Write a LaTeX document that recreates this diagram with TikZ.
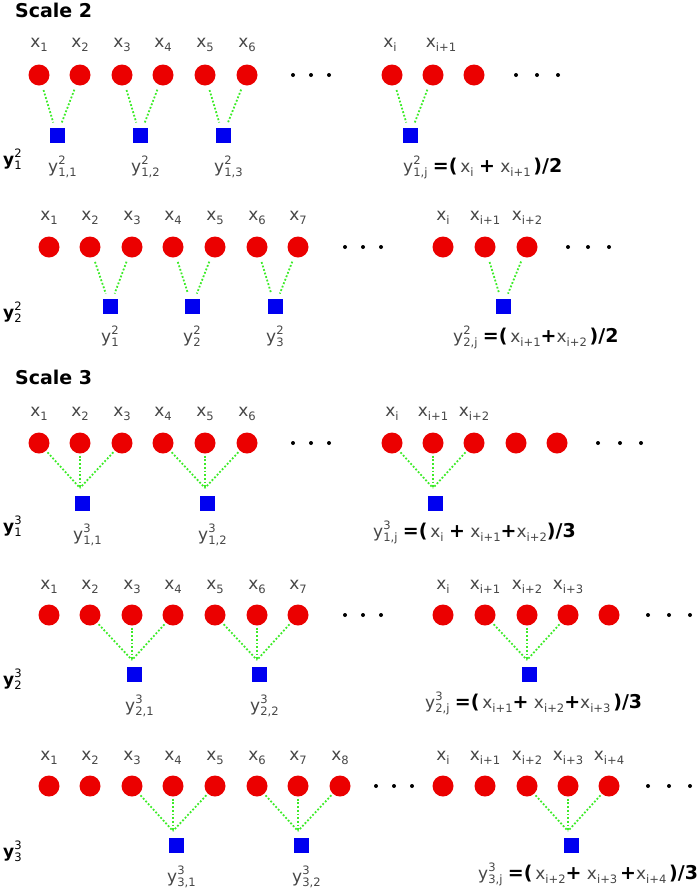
\documentclass[tikz,border=0pt]{standalone}
\usepackage{fontspec}
\setmainfont{DejaVu Sans}
\usepackage{xcolor}
\usepackage{tikz}
\definecolor{obsred}{RGB}{235,0,0}
\definecolor{avgblue}{RGB}{0,0,240}
\definecolor{linkgreen}{RGB}{60,235,40}
\definecolor{lblgray}{RGB}{70,70,70}
\newcommand{\lowr}[1]{\raisebox{-.24em}{\scalebox{.68}{#1}}}
\newcommand{\highr}[1]{\raisebox{.44em}{\scalebox{.68}{#1}}}
\newcommand{\xs}[1]{x\lowr{#1}}
\newcommand{\ys}[2]{y\rlap{\highr{#1}}\lowr{#2}}
\newcommand{\yb}[2]{\textbf{y}\rlap{\highr{#1}}\lowr{#2}}
\newcommand{\op}[1]{{\fontsize{19}{19}\selectfont\bfseries\color{black}#1}}
\tikzset{
  obs/.style     = {circle, fill=obsred, minimum size=21pt, inner sep=0pt},
  avg/.style     = {rectangle, fill=avgblue, minimum size=15pt, inner sep=0pt},
  gap/.style     = {circle, fill=black, minimum size=4pt, inner sep=0pt},
  pair/.style    = {draw=linkgreen, line width=1.8pt, dash pattern=on 1.8pt off 1.9pt,
                    shorten <=5pt, shorten >=5pt},
  triple/.style  = {draw=linkgreen, line width=1.8pt, dash pattern=on 1.8pt off 1.9pt,
                    shorten <=2pt},
  xlab/.style    = {text=lblgray, font=\fontsize{17}{17}\selectfont, anchor=base, inner sep=0pt},
  ylab/.style    = {text=lblgray, font=\fontsize{17}{17}\selectfont, anchor=base west, inner sep=0pt},
  eqn/.style     = {text=lblgray, font=\fontsize{17}{17}\selectfont, anchor=base west, inner sep=0pt},
  rowlab/.style  = {text=black, font=\fontsize{17}{17}\selectfont, anchor=base west, inner sep=0pt},
  heading/.style = {font=\fontsize{19}{19}\selectfont\bfseries, anchor=west, inner sep=0pt}
}
\begin{document}
\begin{tikzpicture}[x=1pt, y=-1pt]
\useasboundingbox (0,0) rectangle (697,892);
\node[heading] (sc2) at (15,10) {Scale 2};
\node[heading] (sc3) at (15,377) {Scale 3};
% scale 2, first offset
\foreach \k/\cx in {1/39,2/80,3/122,4/163,5/205,6/247}{
  \node[obs] (a\k) at (\cx,75) {};
  \node[xlab] (la\k) at (\cx,47) {\xs{\k}};
}
\foreach \k/\cx/\t/\lx in {1/392/i/390,2/433/i+1/441}{
  \node[obs] (ai\k) at (\cx,75) {};
  \node[xlab] (lai\k) at (\lx,47) {\xs{\t}};
}
\node[obs] (ai3) at (474,75) {};
\foreach \k/\cx in {1/293,2/311,3/329,4/516,5/537,6/558}
  \node[gap] (da\k) at (\cx,75) {};
\foreach \k/\sx/\u/\v in {1/57/1/2,2/140/3/4,3/223/5/6}{
  \node[avg] (sa\k) at (\sx,135) {};
  \draw[pair] (a\u) -- (sa\k);
  \draw[pair] (a\v) -- (sa\k);
  \node[ylab] (ya\k) at (\sx-9,172) {\ys{2}{1,\k}};
}
\node[avg] (saj) at (410,135) {};
\draw[pair] (ai1) -- (saj);
\draw[pair] (ai2) -- (saj);
\node[eqn] (fa) at (403,172) {\ys{2}{1,j} \op{=(}\,\xs{i} \op{+} \xs{i+1}\,\op{)/2}};
\node[rowlab] (ra) at (3,165) {\yb{2}{1}};
% scale 2, second offset
\foreach \k/\cx in {1/49,2/90,3/132,4/173,5/215,6/257,7/298}{
  \node[obs] (b\k) at (\cx,247) {};
  \node[xlab] (lb\k) at (\cx,220) {\xs{\k}};
}
\foreach \k/\cx/\t in {1/443/i,2/485/i+1,3/527/i+2}{
  \node[obs] (bi\k) at (\cx,247) {};
  \node[xlab] (lbi\k) at (\cx,220) {\xs{\t}};
}
\foreach \k/\cx in {1/345,2/363,3/381,4/568,5/588,6/609}
  \node[gap] (db\k) at (\cx,247) {};
\foreach \k/\sx/\u/\v in {1/110/2/3,2/192/4/5,3/275/6/7}{
  \node[avg] (sb\k) at (\sx,306) {};
  \draw[pair] (b\u) -- (sb\k);
  \draw[pair] (b\v) -- (sb\k);
  \node[ylab] (yb\k) at (\sx-9,342) {\ys{2}{\k}};
}
\node[avg] (sbj) at (503,306) {};
\draw[pair] (bi2) -- (sbj);
\draw[pair] (bi3) -- (sbj);
\node[eqn] (fb) at (453,342) {\ys{2}{2,j} \op{=(}\,\xs{i+1}\op{+}\xs{i+2}\,\op{)/2}};
\node[rowlab] (rb) at (3,318) {\yb{2}{2}};
% scale 3, first offset
\foreach \k/\cx in {1/39,2/80,3/122,4/163,5/205,6/247}{
  \node[obs] (c\k) at (\cx,443) {};
  \node[xlab] (lc\k) at (\cx,416) {\xs{\k}};
}
\foreach \k/\cx/\t in {1/392/i,2/433/i+1,3/474/i+2}{
  \node[obs] (ci\k) at (\cx,443) {};
  \node[xlab] (lci\k) at (\cx,416) {\xs{\t}};
}
\node[obs] (ci4) at (516,443) {};
\node[obs] (ci5) at (557,443) {};
\foreach \k/\cx in {1/293,2/311,3/329,4/598,5/620,6/641}
  \node[gap] (dc\k) at (\cx,443) {};
\foreach \k/\jx/\u/\v/\w in {1/80/1/2/3,2/205/4/5/6}{
  \coordinate (jc\k) at (\jx,488);
  \node[avg] (sc\k) at (\jx+2,503) {};
  \draw[triple] (c\u) -- (jc\k);
  \draw[triple] (c\v) -- (jc\k);
  \draw[triple] (c\w) -- (jc\k);
  \node[ylab] (yc\k) at (\jx-7,540) {\ys{3}{1,\k}};
}
\coordinate (jcj) at (433,488);
\node[avg] (scj) at (435,503) {};
\draw[triple] (ci1) -- (jcj);
\draw[triple] (ci2) -- (jcj);
\draw[triple] (ci3) -- (jcj);
\node[eqn] (fc) at (373,537) {\ys{3}{1,j} \op{=(}\,\xs{i} \op{+} \xs{i+1}\op{+}\xs{i+2}\op{)/3}};
\node[rowlab] (rc) at (3,532) {\yb{3}{1}};
% scale 3, second offset
\foreach \k/\cx in {1/49,2/90,3/132,4/173,5/215,6/257,7/298}{
  \node[obs] (d\k) at (\cx,615) {};
  \node[xlab] (ld\k) at (\cx,589) {\xs{\k}};
}
\foreach \k/\cx/\t in {1/443/i,2/485/i+1,3/527/i+2,4/568/i+3}{
  \node[obs] (di\k) at (\cx,615) {};
  \node[xlab] (ldi\k) at (\cx,589) {\xs{\t}};
}
\node[obs] (di5) at (609,615) {};
\foreach \k/\cx in {1/345,2/363,3/381,4/648,5/669,6/690}
  \node[gap] (dd\k) at (\cx,615) {};
\foreach \k/\jx/\u/\v/\w in {1/132/2/3/4,2/257/5/6/7}{
  \coordinate (jd\k) at (\jx,660);
  \node[avg] (sd\k) at (\jx+2,674) {};
  \draw[triple] (d\u) -- (jd\k);
  \draw[triple] (d\v) -- (jd\k);
  \draw[triple] (d\w) -- (jd\k);
  \node[ylab] (yd\k) at (\jx-7,711) {\ys{3}{2,\k}};
}
\coordinate (jdj) at (527,660);
\node[avg] (sdj) at (529,674) {};
\draw[triple] (di2) -- (jdj);
\draw[triple] (di3) -- (jdj);
\draw[triple] (di4) -- (jdj);
\node[eqn] (fd) at (425,708) {\ys{3}{2,j} \op{=(}\,\xs{i+1}\op{+} \xs{i+2}\op{+}\xs{i+3}\,\op{)/3}};
\node[rowlab] (rd) at (3,685) {\yb{3}{2}};
% scale 3, third offset
\foreach \k/\cx in {1/49,2/90,3/132,4/173,5/215,6/257,7/298,8/340}{
  \node[obs] (e\k) at (\cx,786) {};
  \node[xlab] (le\k) at (\cx,760) {\xs{\k}};
}
\foreach \k/\cx/\t in {1/443/i,2/485/i+1,3/527/i+2,4/568/i+3,5/609/i+4}{
  \node[obs] (ei\k) at (\cx,786) {};
  \node[xlab] (lei\k) at (\cx,760) {\xs{\t}};
}
\foreach \k/\cx in {1/376,2/394,3/412,4/648,5/669,6/690}
  \node[gap] (de\k) at (\cx,786) {};
\foreach \k/\jx/\u/\v/\w in {1/173/3/4/5,2/298/6/7/8}{
  \coordinate (je\k) at (\jx,831);
  \node[avg] (se\k) at (\jx+3,845) {};
  \draw[triple] (e\u) -- (je\k);
  \draw[triple] (e\v) -- (je\k);
  \draw[triple] (e\w) -- (je\k);
  \node[ylab] (ye\k) at (\jx-6,882) {\ys{3}{3,\k}};
}
\coordinate (jej) at (568,831);
\node[avg] (sej) at (571,845) {};
\draw[triple] (ei3) -- (jej);
\draw[triple] (ei4) -- (jej);
\draw[triple] (ei5) -- (jej);
\node[eqn] (fe) at (478,879) {\ys{3}{3,j} \op{=(}\,\xs{i+2}\op{+} \xs{i+3}\,\op{+}\xs{i+4}\,\op{)/3}};
\node[rowlab] (re) at (3,857) {\yb{3}{3}};
\end{tikzpicture}
\end{document}
